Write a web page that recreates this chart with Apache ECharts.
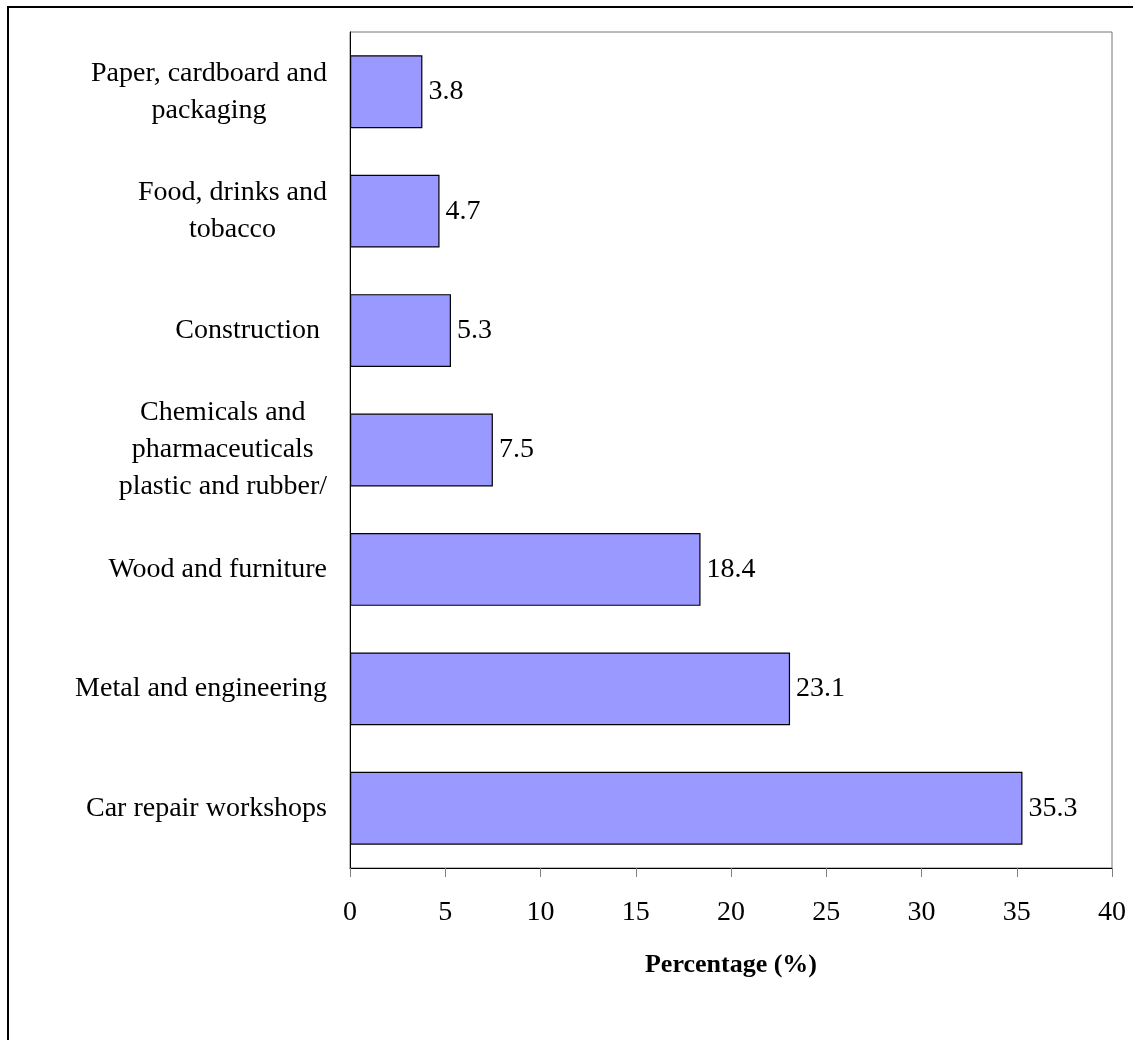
<!DOCTYPE html>
<html>
<head>
<meta charset="utf-8">
<title>Percentage by sector</title>
<script src="https://cdn.jsdelivr.net/npm/echarts@6/dist/echarts.min.js"></script>
<style>
    html, body { margin: 0; padding: 0; background: #fff; overflow: hidden; }
    #container-chart-bar { width: 1133px; height: 1040px; }
</style>
</head>
<body>
<div id="container-chart-bar"></div>
<script>
// 行业名称（从上到下）
var categories = [
    'Paper, cardboard and\npackaging',
    'Food, drinks and\ntobacco',
    'Construction ',
    'Chemicals and\npharmaceuticals\nplastic and rubber/',
    'Wood and furniture',
    'Metal and engineering',
    'Car repair workshops'
];
// 百分比
var percentages = [3.8, 4.7, 5.3, 7.5, 18.4, 23.1, 35.3];
// x轴刻度
var xTicks = [0, 5, 10, 15, 20, 25, 30, 35, 40];

var myChart;
var FONT = '"Liberation Serif", "Times New Roman", serif';

function myChartInit() {
    myChart = echarts.init(document.getElementById('container-chart-bar'));

    var option = {
        animation: false,
        backgroundColor: '#fff',
        textStyle: { fontFamily: FONT, color: '#000' },
        graphic: [{
            // 外框
            type: 'rect',
            shape: { x: 8, y: 7, width: 1300, height: 1200 },
            style: { fill: 'none', stroke: '#000', lineWidth: 2 },
            silent: true
        }],
        grid: {
            left: 350,
            top: 32,
            right: 21,
            bottom: 172,
            show: true,
            borderColor: '#777',
            borderWidth: 1
        },
        xAxis: {
            type: 'value',
            min: xTicks[0],
            max: xTicks[xTicks.length - 1],
            interval: 5,
            name: 'Percentage (%)',
            nameLocation: 'middle',
            nameGap: 84,
            nameTextStyle: { fontFamily: FONT, fontSize: 26, fontWeight: 'bold', color: '#000' },
            axisLine: { show: true, lineStyle: { color: '#000', width: 1 } },
            axisTick: { show: true, length: 9, lineStyle: { color: '#808080' } },
            splitLine: { show: false },
            axisLabel: { fontFamily: FONT, fontSize: 28, color: '#000', margin: 31 }
        },
        yAxis: {
            type: 'category',
            inverse: true,
            data: categories,
            axisLine: { show: true, lineStyle: { color: '#000', width: 1 } },
            axisTick: { show: false },
            axisLabel: {
                align: 'right',
                margin: 23,
                fontFamily: FONT,
                fontSize: 28,
                lineHeight: 37,
                color: '#000',
                formatter: function (value) {
                    // 多行标签每行居中
                    return value.split('\n').map(function (s) {
                        return '{c|' + s + '}';
                    }).join('\n');
                },
                rich: {
                    c: { align: 'center', fontFamily: FONT, fontSize: 28, lineHeight: 37, color: '#000' }
                }
            }
        },
        series: [{
            name: 'Percentage',
            type: 'bar',
            data: percentages,
            barCategoryGap: '39%',
            itemStyle: { color: '#9999FF', borderColor: '#000', borderWidth: 1.2 },
            label: {
                show: true,
                position: 'right',
                distance: 6,
                fontFamily: FONT,
                fontSize: 28,
                color: '#000'
            }
        }]
    };

    myChart.setOption(option);
}

myChartInit();
</script>
</body>
</html>
